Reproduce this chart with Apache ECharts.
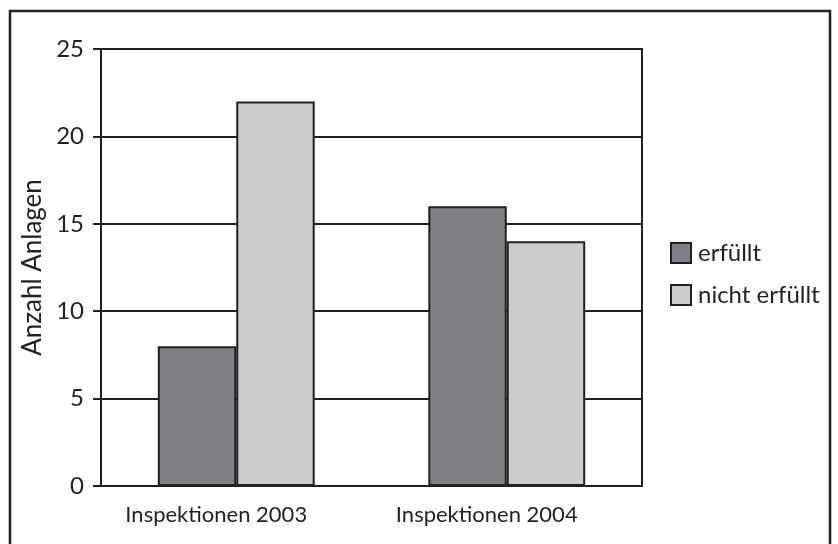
<!DOCTYPE html>
<html>
<head>
<meta charset="utf-8">
<script src="https://cdn.jsdelivr.net/npm/echarts@6/dist/echarts.min.js"></script>
<style>html,body{margin:0;padding:0;background:#fff}#c{width:838px;height:544px}</style>
</head>
<body>
<div id="c"></div>
<script>
var categories = ['Inspektionen 2003', 'Inspektionen 2004'];
var seriesNames = ['erfüllt', 'nicht erfüllt'];
var erfuellt = [8, 16];
var nichtErfuellt = [22, 14];
var yAxisName = 'Anzahl Anlagen';

var ink = '#231f20';
var font = 'Lato';
var chart = echarts.init(document.getElementById('c'), null, {renderer: 'canvas'});
chart.setOption({
  animation: false,
  backgroundColor: '#fff',
  textStyle: {fontFamily: font, color: ink},
  graphic: [{
    type: 'rect',
    shape: {x: 10, y: 11, width: 820, height: 560},
    style: {fill: 'none', stroke: ink, lineWidth: 2.5},
    silent: true
  }],
  grid: {left: 101, top: 49, right: 196, bottom: 58, show: true, borderColor: ink, borderWidth: 2, backgroundColor: 'transparent'},
  legend: {
    orient: 'vertical', left: 665, top: 236,
    itemWidth: 20, itemHeight: 20, itemGap: 18, icon: 'rect',
    textStyle: {fontSize: 24, fontFamily: font, color: ink, padding: [0, 0, 0, 2]},
    data: seriesNames
  },
  xAxis: {
    type: 'category', data: categories,
    axisLine: {show: true, lineStyle: {color: ink, width: 2}},
    axisTick: {show: false},
    axisLabel: {fontSize: 22, fontFamily: font, color: ink, margin: 18, padding: [0, 40, 0, 0]}
  },
  yAxis: {
    type: 'value', min: 0, max: 25, interval: 5,
    name: yAxisName, nameLocation: 'middle', nameGap: 48,
    nameTextStyle: {fontSize: 26, fontFamily: font, color: ink},
    axisLine: {show: true, lineStyle: {color: ink, width: 2}},
    axisTick: {show: true, length: 8, lineStyle: {color: ink, width: 2}},
    axisLabel: {fontSize: 24, fontFamily: font, color: ink, margin: 17},
    splitLine: {show: true, lineStyle: {color: ink, width: 2}}
  },
  series: [{
    name: seriesNames[0], type: 'bar', data: erfuellt,
    barGap: '0%', barCategoryGap: '42%',
    itemStyle: {color: '#808184', borderColor: ink, borderWidth: 2}
  }, {
    name: seriesNames[1], type: 'bar', data: nichtErfuellt,
    itemStyle: {color: '#cbccce', borderColor: ink, borderWidth: 2}
  }]
});
</script>
</body>
</html>
